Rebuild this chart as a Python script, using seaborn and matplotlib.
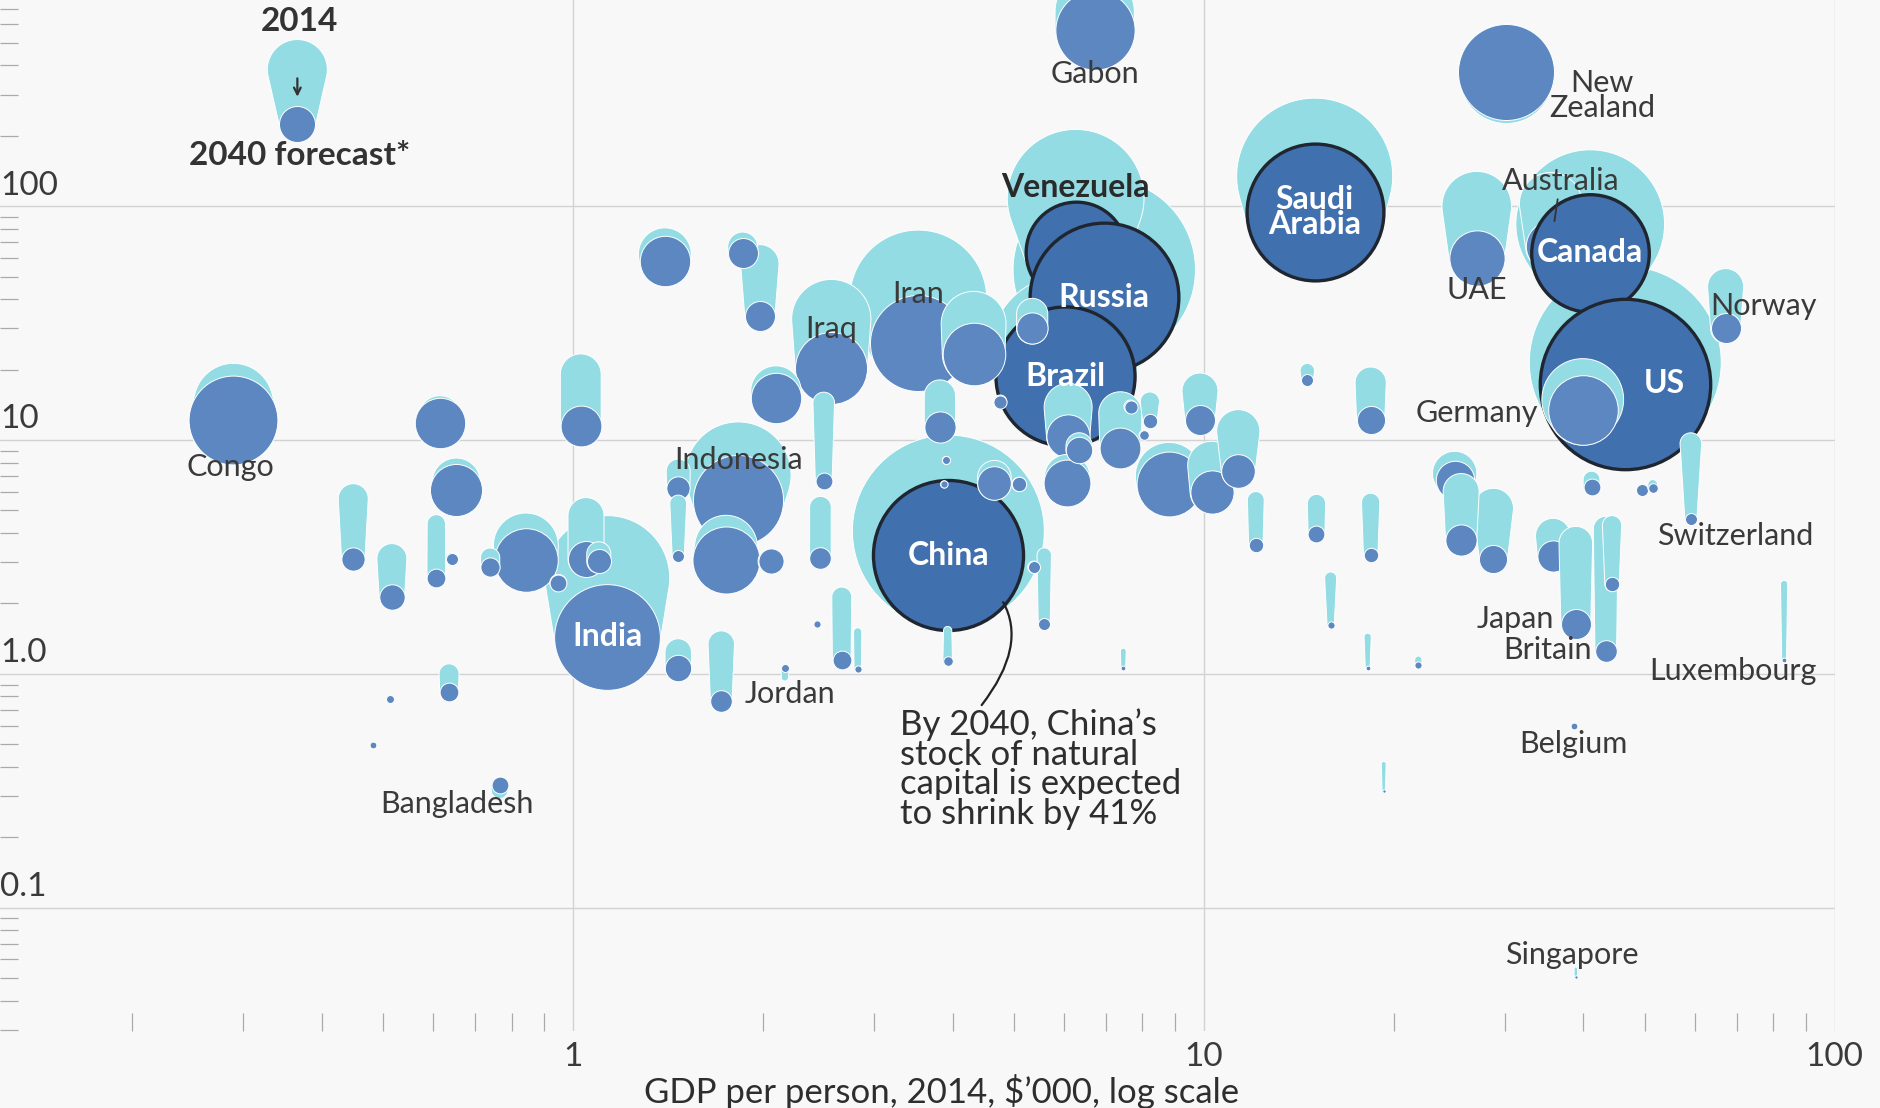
import numpy as np
import pandas as pd
import seaborn as sns
import matplotlib.pyplot as plt
from matplotlib.patches import Polygon

# Natural capital per person ($'000, log) in 2014 and 2040, GDP per person 2014,
# and total stock of natural capital (bubble area).
# Listed in drawing order: big bubbles at the back.
countries = ["China", "India", "Iran", "Venezuela", "Russia", "Brazil", "Saudi Arabia",
             "Australia", "Canada", "UAE", "US", "Germany", "Gabon", "New Zealand",
             "Congo", "Indonesia", "Iraq"] + [""] * 18 + ["Norway"] + [""] * 4 + ["Japan"] + \
            [""] * 7 + ["Jordan", "", "", "Britain", "", "", "", "", "Switzerland"] + \
            [""] * 10 + ["Bangladesh", "", ""] + [""] * 19 + ["Luxembourg", "", "", "Belgium",
                                                              "", "", "Singapore"]
gdp = [3.94, 1.135, 3.53, 6.27, 6.96, 6.03, 15.0, 35.5, 41.0, 27.1, 46.6, 39.9, 6.72, 30.2,
       0.290, 1.83, 2.57, 4.32, 8.81, 1.75, 0.843, 2.10, 1.40, 10.3, 6.10, 0.654, 0.616,
       6.08, 25.0, 11.35, 7.38, 1.03, 28.8, 1.98, 4.66, 67.2, 1.05, 9.87, 25.6, 35.8, 38.9,
       3.82, 18.4, 5.35, 1.86, 0.449, 0.517, 1.47, 1.72, 6.35, 2.06, 43.4, 1.10, 1.47, 2.47,
       2.50, 59.2, 0.637, 2.67, 0.740, 8.22, 44.4, 0.608, 15.1, 18.4, 1.47, 0.949, 0.766,
       12.1, 41.2, 5.59, 5.10, 14.6, 4.76, 7.66, 0.643, 5.38, 15.9, 49.5, 8.04, 51.5, 3.93,
       2.83, 0.513, 3.91, 2.17, 2.44, 18.2, 21.9, 83.2, 3.88, 0.482, 38.6, 7.46, 19.3, 38.9]
capital_2014 = [4.08, 2.57, 40.3, 108.6, 53.5, 24.2, 134.4, 102.4, 83.8, 100.0, 21.5, 14.9,
                680, 358, 14.4, 7.10, 32.9, 31.4, 7.02, 3.50, 3.54, 16.2, 62.3, 7.80, 13.8,
                6.61, 12.5, 6.93, 7.19, 10.9, 13.0, 19.1, 5.10, 56.7, 6.93, 45.3, 4.75, 16.2,
                6.02, 3.89, 3.62, 15.5, 17.6, 34.6, 66.9, 5.61, 3.11, 1.24, 1.34, 9.43, 3.03,
                4.17, 3.26, 7.36, 5.16, 14.4, 9.65, 1.00, 2.13, 3.14, 14.6, 4.32, 4.38, 5.35,
                5.41, 5.35, 2.45, 0.318, 5.54, 6.77, 3.22, 6.46, 19.8, 14.6, 13.9, 3.11, 2.86,
                2.57, 6.09, 10.5, 6.46, 1.53, 1.51, 0.780, 8.18, 0.965, 1.64, 1.44, 1.15, 2.42,
                6.46, 0.498, 0.598, 1.25, 0.412, 0.0548]
capital_2040 = [3.22, 1.44, 26.0, 63.8, 40.7, 18.7, 94.3, 67.7, 63.1, 60.2, 17.4, 13.4,
                567, 375, 12.2, 5.54, 20.3, 23.4, 6.46, 3.07, 3.07, 15.1, 58.1, 6.02, 10.4,
                6.09, 11.8, 6.54, 6.77, 7.36, 9.21, 11.5, 3.11, 33.8, 6.54, 30.0, 3.11, 12.2,
                3.75, 3.18, 1.64, 11.4, 12.2, 30.0, 63.1, 3.09, 2.13, 1.06, 0.762, 9.10, 3.03,
                1.25, 3.03, 6.24, 3.14, 6.69, 4.59, 0.838, 1.15, 2.86, 12.1, 2.42, 2.57, 3.98,
                3.22, 3.18, 2.45, 0.333, 3.56, 6.31, 1.64, 6.46, 18.0, 14.6, 13.9, 3.11, 2.86,
                1.62, 6.09, 10.5, 6.24, 1.13, 1.05, 0.780, 8.18, 1.06, 1.64, 1.06, 1.09, 1.15,
                6.46, 0.498, 0.598, 1.06, 0.314, 0.0504]
stock_2014 = [64.0, 27.0, 32.5, 32.5, 57.8, 38.4, 42.3, 6.8, 38.4, 8.4, 64.0, 11.6, 10.9,
              15.2, 10.9, 19.4, 10.9, 7.3, 7.8, 6.8, 7.3, 4.4, 4.84, 4.0, 4.0, 4.0, 3.24,
              3.61, 3.42, 3.24, 3.24, 2.89, 2.79, 2.56, 1.96, 2.25, 2.25, 2.25, 2.25, 2.13,
              1.96, 1.69, 1.69, 1.69, 1.56, 1.56, 1.56, 1.21, 1.21, 1.21, 1.1, 1.08, 1.0, 1.0,
              0.81, 0.81, 0.81, 0.69, 0.69, 0.64, 0.64, 0.64, 0.58, 0.58, 0.58, 0.49, 0.49,
              0.49, 0.49, 0.49, 0.36, 0.36, 0.36, 0.30, 0.30, 0.25, 0.25, 0.25, 0.25, 0.16,
              0.16, 0.12, 0.12, 0.11, 0.11, 0.09, 0.09, 0.09, 0.09, 0.09, 0.09, 0.08, 0.08,
              0.06, 0.04, 0.02]
stock_2040 = [39.1, 19.4, 16.0, 17.6, 38.4, 33.6, 32.5, 4.4, 24.0, 5.3, 50.4, 8.4, 10.9,
              16.0, 13.7, 14.1, 9.0, 6.8, 7.3, 7.8, 7.0, 4.4, 4.41, 3.24, 3.24, 4.7, 4.41,
              3.80, 2.56, 1.96, 2.89, 2.89, 1.37, 1.56, 1.96, 1.56, 2.25, 1.56, 1.69, 1.69,
              1.56, 1.69, 1.37, 1.69, 1.56, 0.94, 1.12, 1.21, 0.81, 1.21, 1.1, 0.81, 1.0, 0.94,
              0.81, 0.49, 0.25, 0.61, 0.61, 0.64, 0.36, 0.36, 0.61, 0.49, 0.36, 0.25, 0.49,
              0.49, 0.36, 0.49, 0.25, 0.36, 0.25, 0.30, 0.30, 0.25, 0.25, 0.09, 0.25, 0.16,
              0.16, 0.16, 0.09, 0.11, 0.11, 0.11, 0.09, 0.04, 0.09, 0.04, 0.09, 0.08, 0.08,
              0.04, 0.02, 0.02]

df = pd.DataFrame({"country": countries, "gdp": gdp, "cap2014": capital_2014,
                   "cap2040": capital_2040, "stock2014": stock_2014, "stock2040": stock_2040})

highlight = ["China", "Venezuela", "Russia", "Brazil", "Saudi Arabia", "Canada", "US"]
white_labels = {"China": ("China", 0), "India": ("India", 0), "Russia": ("Russia", 0),
                "Brazil": ("Brazil", 0), "Saudi Arabia": ("Saudi\nArabia", 0),
                "Canada": ("Canada", 0), "US": ("US", 28)}
# name -> (text, dx, dy in points, ha)
outer_labels = {"Gabon": ("Gabon", 0, -32, "center"),
                "New Zealand": ("New\nZealand", 69, -17, "center"),
                "UAE": ("UAE", 0, -23, "center"), "Norway": ("Norway", 27, 16, "center"),
                "Germany": ("Germany", -32, -2, "right"), "Iran": ("Iran", 0, 35, "center"),
                "Iraq": ("Iraq", 0, 28, "center"), "Congo": ("Congo", -2, -34, "center"),
                "Indonesia": ("Indonesia", 0, 29, "center"), "Jordan": ("Jordan", 17, 5, "left"),
                "Bangladesh": ("Bangladesh", -31, -13, "center"),
                "Switzerland": ("Switzerland", 32, -12, "center"),
                "Japan": ("Japan", -16, 3, "right"), "Britain": ("Britain", -10, 1, "right"),
                "Luxembourg": ("Luxembourg", -37, -8, "center"),
                "Belgium": ("Belgium", 0, -13, "center"), "Singapore": ("Singapore", -3, 16, "center")}

LIGHT = "#93dce4"
DARK = "#5d87c0"
DARK_HI = "#4170ae"
OUTLINE = "#1f2630"
TEXT = "#3a3a3a"
BG = "#f8f8f8"
DPI = 100
FS = 22

sns.set_theme(style="white")
plt.rcParams["font.family"] = ["Lato", "DejaVu Sans"]

fig = plt.figure(figsize=(18.8, 11.08), dpi=DPI)
fig.patch.set_facecolor(BG)
ax = fig.add_axes([0.0, 0.0693, 0.9758, 0.9307])
ax.set_facecolor(BG)
ax.set_xscale("log")
ax.set_yscale("log")
ax.set_xlim(0.1237, 100)
ax.set_ylim(0.0296, 762)
ax.set_autoscale_on(False)


def radius_px(stock):
    return 12.0 * np.sqrt(stock)


def hull(c1, r1, c2, r2, n=60):
    # outline of the two circles joined by their outer tangents, in pixels
    c1 = np.asarray(c1, float)
    c2 = np.asarray(c2, float)
    d = np.hypot(*(c2 - c1))
    if d < 1e-6 or abs(r1 - r2) >= d:
        c, r = (c1, r1) if r1 >= r2 else (c2, r2)
        t = np.linspace(0, 2 * np.pi, 2 * n, endpoint=False)
        return c + r * np.column_stack([np.cos(t), np.sin(t)])
    alpha = np.arctan2(c2[1] - c1[1], c2[0] - c1[0])
    beta = np.arccos((r1 - r2) / d)
    t1 = np.linspace(alpha + beta, alpha + 2 * np.pi - beta, n)
    t2 = np.linspace(alpha - beta, alpha + beta, n)
    a1 = c1 + r1 * np.column_stack([np.cos(t1), np.sin(t1)])
    a2 = c2 + r2 * np.column_stack([np.cos(t2), np.sin(t2)])
    return np.vstack([a1, a2])


# cones of the highlighted giants sit underneath everything else
hi_rank = {c: k for k, c in enumerate(
    df[df.country.isin(highlight)].sort_values("stock2014", ascending=False).country)}

for i, row in df.iterrows():
    hi = row.country in highlight
    z_light = 1 + 0.01 * hi_rank[row.country] if hi else 2 + 2 * i
    z_dark = 3 + 2 * i
    p1 = ax.transData.transform((row.gdp, row.cap2014))
    p2 = ax.transData.transform((row.gdp, row.cap2040))
    verts = hull(p1, radius_px(row.stock2014), p2, radius_px(row.stock2040))
    ax.add_patch(Polygon(ax.transData.inverted().transform(verts), closed=True,
                         facecolor=LIGHT, edgecolor="white", linewidth=0.7, zorder=z_light))
    d_pt = 2 * radius_px(row.stock2040) * 72 / DPI
    sns.scatterplot(x=[row.gdp], y=[row.cap2040], ax=ax, s=d_pt ** 2,
                    color=DARK_HI if hi else DARK,
                    edgecolor=OUTLINE if hi else "white",
                    linewidth=2.4 if hi else 0.7, zorder=z_dark, legend=False)

lab = df.set_index("country")
for name, (txt, dx) in white_labels.items():
    r = lab.loc[name]
    ax.annotate(txt, (r.gdp, r.cap2040), xytext=(dx, 0), textcoords="offset points",
                ha="center", va="center", color="white", fontsize=23,
                fontweight="bold", linespacing=0.85, zorder=400)

for name, (txt, dx, dy, ha) in outer_labels.items():
    r = lab.loc[name]
    ax.annotate(txt, (r.gdp, r.cap2040), xytext=(dx, dy), textcoords="offset points",
                ha=ha, va="center", color=TEXT, fontsize=FS, linespacing=0.85, zorder=400)

r = lab.loc["Venezuela"]
ax.annotate("Venezuela", (r.gdp, r.cap2040), xytext=(0, 46), textcoords="offset points",
            ha="center", va="center", color="#2a2a2a", fontsize=23, fontweight="bold",
            zorder=400)

r = lab.loc["Australia"]
ax.annotate("Australia", (r.gdp, r.cap2040), xytext=(7, 47), textcoords="offset points",
            ha="center", va="center", color=TEXT, fontsize=FS, zorder=400,
            arrowprops=dict(arrowstyle="-", color="#333333", lw=1.3, shrinkA=1, shrinkB=18))

r = lab.loc["China"]
ax.annotate("By 2040, China\u2019s\nstock of natural\ncapital is expected\nto shrink by 41%",
            (r.gdp, r.cap2040), xytext=(-35, -110), textcoords="offset points",
            ha="left", va="top", color="#2e2e2e", fontsize=25, linespacing=0.92, zorder=400)
ax.annotate("", (r.gdp, r.cap2040), xytext=(24, -108), textcoords="offset points",
            zorder=400,
            arrowprops=dict(arrowstyle="-", color="#222222", lw=1.6, shrinkA=0, shrinkB=52,
                            connectionstyle="arc3,rad=0.6"))

# key: 2014 -> 2040 forecast
kx = 248 / 1530
k1 = ax.transAxes.transform((kx, 1 - 58 / 860))
k2 = ax.transAxes.transform((kx, 1 - 103 / 860))
kverts = hull(k1, 30, k2, 18)
ax.add_patch(Polygon(ax.transAxes.inverted().transform(kverts), closed=True,
                     facecolor=LIGHT, edgecolor="white", linewidth=0.7,
                     transform=ax.transAxes, zorder=500))
ax.scatter([kx], [1 - 103 / 860], s=(2 * 18 * 72 / DPI) ** 2, color=DARK, edgecolor="white",
           linewidth=0.7, transform=ax.transAxes, zorder=501)
ax.annotate("", xy=(kx, 1 - 83 / 860), xytext=(kx, 1 - 63 / 860), xycoords="axes fraction",
            arrowprops=dict(arrowstyle="->", color="#333333", lw=1.6), zorder=502)
ax.text(kx + 0.001, 1 - 18 / 860, "2014", transform=ax.transAxes, ha="center", va="center",
        fontsize=24, fontweight="bold", color="#333333", zorder=502)
ax.text(kx + 0.001, 1 - 130 / 860, "2040 forecast*", transform=ax.transAxes, ha="center",
        va="center", fontsize=24, fontweight="bold", color="#333333", zorder=502)

# axes styling
for s in ax.spines.values():
    s.set_visible(False)
ax.set_xticks([1, 10, 100])
ax.set_xticklabels(["1", "10", "100"])
ax.set_yticks([0.1, 1, 10, 100])
ax.tick_params(axis="y", which="major", length=0, labelleft=False)
ax.tick_params(axis="y", which="minor", direction="in", length=13, width=0.9,
               color="#aaaaaa", left=True)
ax.tick_params(axis="x", which="major", length=0, pad=8, labelsize=24, labelcolor=TEXT)
ax.tick_params(axis="x", which="minor", direction="in", length=13, width=0.9,
               color="#aaaaaa", bottom=True)
ax.grid(which="major", color="#d2d2d2", linewidth=1.0)
ax.set_axisbelow(True)
ax.set_xlabel("")
ax.set_ylabel("")

for v, t in zip([0.1, 1, 10, 100], ["0.1", "1.0", "10", "100"]):
    ax.annotate(t, (0, v), xycoords=("axes fraction", "data"), xytext=(0, 4),
                textcoords="offset points", ha="left", va="bottom", fontsize=24, color=TEXT)

fig.text(785 / 1568, 1 - 910 / 924, "GDP per person, 2014, $\u2019000, log scale",
         ha="center", va="center", fontsize=25, color="#2e2e2e")

fig.savefig("out.png", dpi=DPI, facecolor=BG)
